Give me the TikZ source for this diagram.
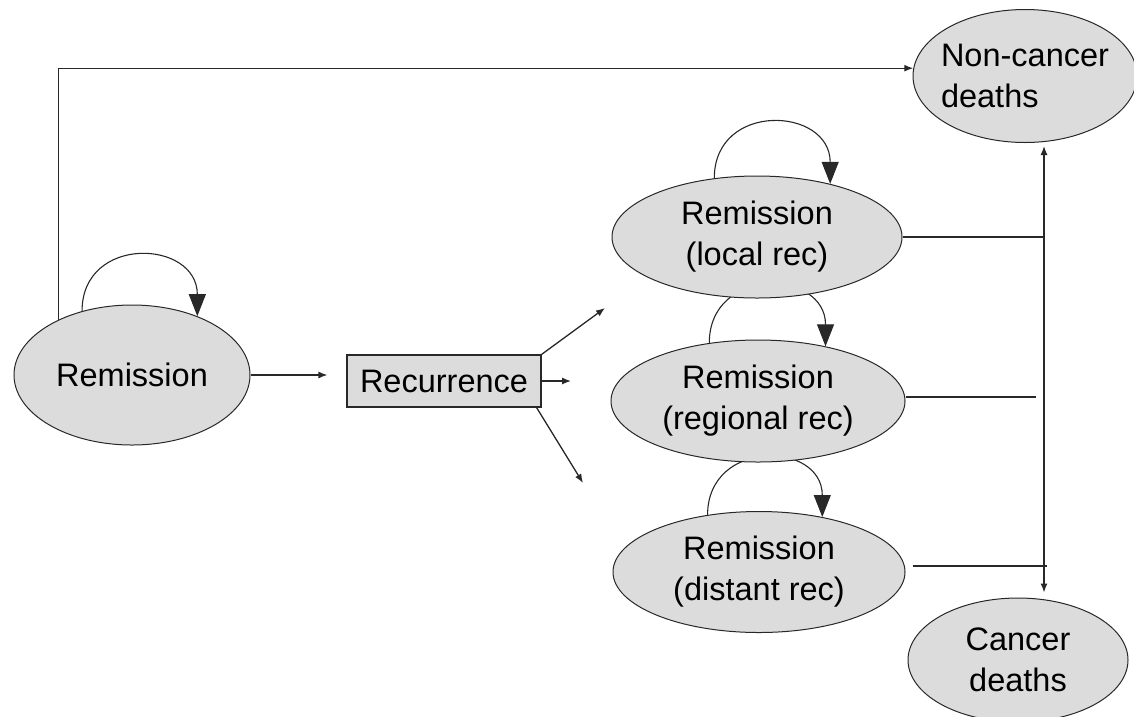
\documentclass[tikz,border=0pt]{standalone}
\usepackage{fontspec}
\setmainfont{Liberation Sans}
\usetikzlibrary{shapes.geometric,arrows.meta,backgrounds,calc}
\definecolor{nodefill}{RGB}{220,220,220}
\definecolor{ink}{RGB}{40,40,40}
\begin{document}
\begin{tikzpicture}[x=1pt,y=1pt,
  every node/.style={font=\fontsize{32.5}{41}\selectfont, text=black},
  state/.style={ellipse, draw=ink, fill=nodefill, line width=1pt, inner sep=0pt},
  box/.style={rectangle, draw=ink, fill=nodefill, line width=1.2pt, minimum width=194pt, minimum height=52pt, inner sep=0pt},
  conn/.style={draw=ink, line width=1.3pt},
  arr/.style={conn, -{Latex[length=9pt,width=7pt]}},
  selfloop/.style={conn, line width=1.1pt, -{Triangle[length=22pt,width=17pt]}, looseness=1.7}]
\useasboundingbox (0,0) rectangle (1134,-716);
% states
\node[state, minimum width=236pt, minimum height=140pt] (rem) at (132,-375) {Remission};
\node[box] (rec) at (444,-381) {Recurrence};
\node[state, minimum width=290pt, minimum height=122pt, align=center] (loc) at (757,-237) {Remission\\(local rec)};
\node[state, minimum width=294pt, minimum height=122pt, align=center] (reg) at (758,-401) {Remission\\(regional rec)};
\node[state, minimum width=292pt, minimum height=121pt, align=center] (dis) at (759,-572) {Remission\\(distant rec)};
\node[state, minimum width=224pt, minimum height=133pt, align=left, inner sep=-6pt] (non) at (1025,-76) {Non-cancer\\deaths};
\node[state, minimum width=220pt, minimum height=124pt, align=center] (can) at (1018,-660) {Cancer\\deaths};
% helper coordinates
\coordinate (vx) at (1044,0);
\coordinate (a1) at (605,-308);
\coordinate (a2) at (571,-381);
\coordinate (a3) at (583,-483);
% self loops (behind the ellipses)
\begin{scope}[on background layer]
\draw[selfloop] (rem.128) to[out=90,in=90] (rem.42);
\draw[selfloop] (loc.126) to[out=90,in=90] (loc.36);
\draw[selfloop] (reg.130) to[out=90,in=90] (reg.39);
\draw[selfloop] (dis.132) to[out=90,in=90] (dis.41);
\end{scope}
% connectors
\draw[arr, shorten >=19pt] (rem.east) -- (rem.east -| rec.west);
\draw[arr] (rec.north east) -- (a1);
\draw[arr] (rec.east) -- (a2);
\draw[arr] ([xshift=-5pt]rec.south east) -- (a3);
\draw[arr] (rem.143) |- (non.176);
\draw[conn, {Latex[length=9pt,width=7pt]}-{Latex[length=9pt,width=7pt]}, shorten <=3pt, shorten >=5pt] (vx |- non.south) -- (vx |- can.north);
\draw[conn] (loc.east) -- (loc.east -| vx);
\draw[conn, shorten >=8pt] ([yshift=4pt]reg.east) -- ([yshift=4pt]reg.east -| vx);
\draw[conn, shorten <=7pt, shorten >=-3pt] ([yshift=6pt]dis.east) -- ([yshift=6pt]dis.east -| vx);
\end{tikzpicture}
\end{document}
